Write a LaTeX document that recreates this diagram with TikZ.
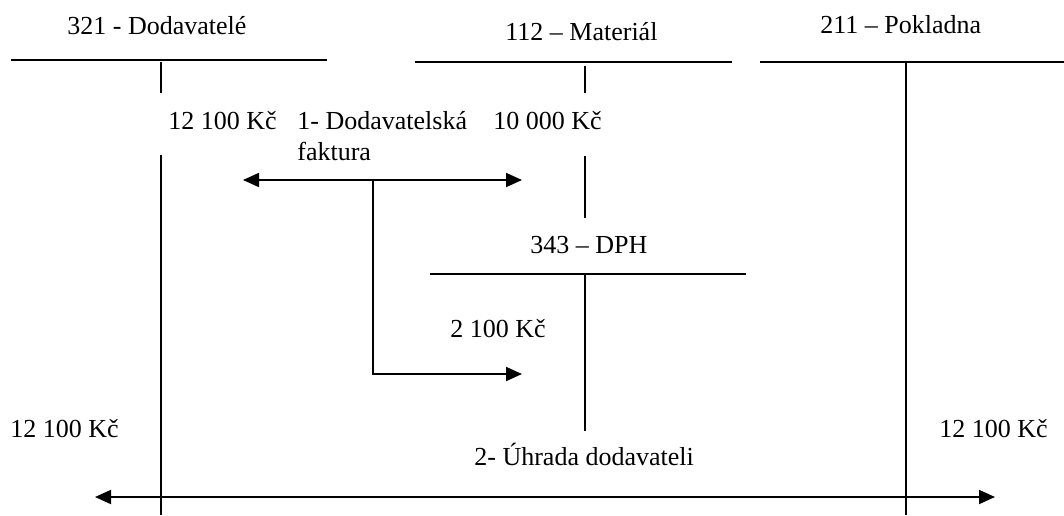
\documentclass[tikz,border=0pt]{standalone}
\usepackage{fontspec}
\setmainfont{Liberation Serif}
\usetikzlibrary{arrows.meta}
\begin{document}
\begin{tikzpicture}[x=0.5pt,y=-0.5pt,
  lbl/.style={anchor=base west,inner sep=0pt,font=\fontsize{13}{15.6}\selectfont},
  tline/.style={line width=0.9pt},
  conn/.style={line width=0.9pt,-{Triangle[length=8pt,width=7pt]}},
  dconn/.style={line width=0.9pt,{Triangle[length=8pt,width=7pt]}-{Triangle[length=8pt,width=7pt]}}]
\useasboundingbox (0,0) rectangle (1064,515);
% titles
\node[lbl] (t321) at (67,34) {321 - Dodavatelé};
\node[lbl] (t112) at (505,40) {112 – Materiál};
\node[lbl] (t211) at (820,33) {211 – Pokladna};
\node[lbl] (t343) at (530,253) {343 – DPH};
% amounts and labels
\node[lbl] (a1) at (168,129) {12 100 Kč};
\node[lbl] (l1a) at (297,129) {1- Dodavatelská};
\node[lbl] (l1b) at (297,160) {faktura};
\node[lbl] (a2) at (493,129) {10 000 Kč};
\node[lbl] (a3) at (450,337) {2 100 Kč};
\node[lbl] (a4) at (10,437) {12 100 Kč};
\node[lbl] (a5) at (939,437) {12 100 Kč};
\node[lbl] (l2) at (474,465) {2- Úhrada dodavateli};
% T-accounts
\draw[tline] (11,60) -- (327,60);
\draw[tline] (161,62) -- (161,93);
\draw[tline] (161,155) -- (161,515);
\draw[tline] (415,62) -- (732,62);
\draw[tline] (585,66) -- (585,93);
\draw[tline] (585,156) -- (585,218);
\draw[tline] (760,62) -- (1064,62);
\draw[tline] (906,62) -- (906,515);
\draw[tline] (430,274) -- (746,274);
\draw[tline] (585,274) -- (585,431);
% connectors
\coordinate (pL) at (243,180);
\coordinate (pR) at (522,180);
\coordinate (pB) at (373,180);
\coordinate (pC) at (373,374);
\coordinate (pD) at (522,374);
\coordinate (qL) at (95,497);
\coordinate (qR) at (995,497);
\draw[dconn] (pL) -- (pR);
\draw[conn] (pB) -- (pC) -- (pD);
\draw[dconn] (qL) -- (qR);
\end{tikzpicture}
\end{document}
